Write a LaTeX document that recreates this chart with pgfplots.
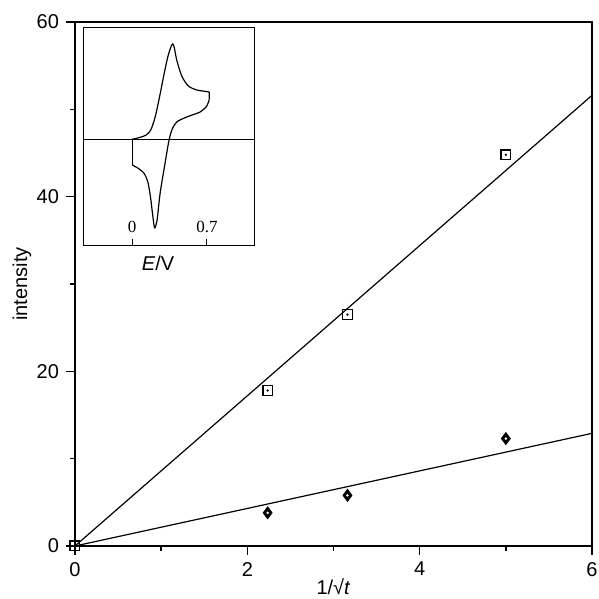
\documentclass[border=0pt]{standalone}
\usepackage{fontspec}
\setmainfont{Liberation Sans}
\newfontfamily\seriffont{Liberation Serif}
\usepackage{pgfplots}
\pgfplotsset{compat=1.18}

\begin{document}
\begin{tikzpicture}
\path[use as bounding box] (-37.5pt,-26.5pt) rectangle (262pt,273pt);

% main plot: intensity vs 1/sqrt(t)
\begin{axis}[
  at={(0pt,0pt)}, anchor=south west,
  scale only axis, width=258.5pt, height=262pt,
  xmin=0, xmax=6, ymin=0, ymax=60,
  xtick={0,2,4,6}, ytick={0,20,40,60}, minor tick num=1,
  tick align=outside, xtick pos=bottom, ytick pos=left,
  major tick length=4.5pt, minor tick length=2.5pt,
  axis line style={line width=0.9pt},
  every tick/.style={black, line width=0.8pt},
  tick label style={font=\fontsize{10}{12}\selectfont},
  /pgf/number format/assume math mode=true,
  xlabel={1/√\textit{t}}, ylabel={intensity},
  label style={font=\fontsize{10}{12}\selectfont},
  xlabel style={at={(axis description cs:0.5,0)}, anchor=north, yshift=-13pt},
  ylabel style={at={(axis description cs:-0.1025,0.5)}, anchor=center},
  clip=false,
]
\addplot[black, line width=0.6pt] coordinates {(0,0) (6,51.6)};
\addplot[black, line width=0.6pt] coordinates {(0,0) (6,12.9)};
\addplot[only marks, mark=square, mark size=2.4pt, mark options={line width=0.7pt}]
  coordinates {(0,0) (2.236,17.8) (3.162,26.5) (5,44.8)};
\addplot[only marks, mark=*, mark size=0.35pt]
  coordinates {(0,0) (2.236,17.8) (3.162,26.5) (5,44.8)};
\addplot[only marks, mark=diamond*, mark size=3pt, fill=black]
  coordinates {(2.236,3.8) (3.162,5.8) (5,12.3)};
\addplot[only marks, mark=*, mark size=0.4pt, white]
  coordinates {(2.236,3.8) (3.162,5.8) (5,12.3)};
\end{axis}

% inset: cyclic voltammogram
\begin{axis}[
  at={(4pt,150pt)}, anchor=south west,
  scale only axis, width=85.5pt, height=109pt,
  xmin=-0.46, xmax=1.14, ymin=-106, ymax=112,
  xtick={0,0.7}, xticklabels={0,0.7}, ytick=\empty,
  xtick pos=bottom, tick align=inside, major tick length=3.5pt,
  axis line style={line width=0.5pt},
  every tick/.style={black, line width=0.5pt},
  xticklabel style={font=\seriffont\fontsize{8.5}{10}\selectfont, anchor=south, yshift=3pt},
  xlabel={\textit{E}/V},
  xlabel style={at={(axis description cs:0.439,-0.078)}, anchor=center,
    font=\fontsize{10}{12}\selectfont},
  axis background/.style={fill=white},
]
\addplot[black, line width=0.5pt] coordinates {(-0.46,0) (1.14,0)};
\addplot[black, line width=0.6pt] coordinates {(0,0) (0,-25)};
\addplot[black, line width=0.6pt, smooth, tension=0.5] coordinates {
  (0,-25) (0.047,-27.7) (0.109,-33) (0.146,-41.7) (0.171,-56.7) (0.190,-73.3)
  (0.209,-87.7) (0.225,-84) (0.237,-77) (0.262,-53) (0.308,-23) (0.34,-3)
  (0.371,10) (0.417,18) (0.511,23) (0.636,28) (0.698,34) (0.72,40)};
\addplot[black, line width=0.6pt] coordinates {(0.72,40) (0.722,48)};
\addplot[black, line width=0.6pt, smooth, tension=0.5] coordinates {
  (0.722,48) (0.66,49) (0.604,50) (0.526,54) (0.464,64) (0.417,80)
  (0.395,92) (0.380,96) (0.362,93) (0.330,81.7) (0.293,63) (0.256,43)
  (0.215,23) (0.174,10) (0.131,5) (0.075,2.7) (0,0.7)};
\end{axis}
\end{tikzpicture}
\end{document}
